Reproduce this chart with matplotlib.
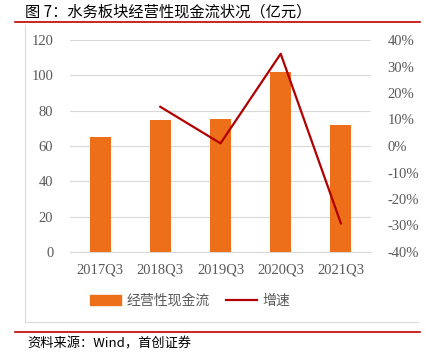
import matplotlib
matplotlib.use("Agg")
import matplotlib.pyplot as plt
from matplotlib.lines import Line2D
from matplotlib.patches import Rectangle

categories = ["2017Q3", "2018Q3", "2019Q3", "2020Q3", "2021Q3"]
cash_flow = [65.0, 74.8, 75.4, 102.0, 72.0]
growth_cats = ["2018Q3", "2019Q3", "2020Q3", "2021Q3"]
growth = [14.8, 1.0, 34.8, -29.2]
left_ticks = [0, 20, 40, 60, 80, 100, 120]
right_ticks = [-40, -30, -20, -10, 0, 10, 20, 30, 40]

W, H = 425, 359
fig = plt.figure(figsize=(W / 100, H / 100), dpi=100)
cjk = ["Noto Sans CJK SC", "DejaVu Sans"]
serif = ["Liberation Serif", "DejaVu Serif"]
tick_color = "#595959"

def fx(px):
    return px / W

def fy(py):
    return 1 - py / H

ax = fig.add_axes([fx(70), fy(252), fx(371) - fx(70), fy(40) - fy(252)])
x = list(range(len(categories)))
ax.bar(x, cash_flow, width=0.35, color="#EE6F1A", zorder=3, label="经营性现金流")
ax.set_xlim(-0.5, len(categories) - 0.5)
ax.set_ylim(0, 120)
ax.set_yticks(left_ticks)
ax.set_xticks(x)
ax.set_xticklabels(categories)
ax.grid(axis="y", color="#D9D9D9", linewidth=0.8, zorder=0)
for s in ["top", "right", "left"]:
    ax.spines[s].set_visible(False)
ax.spines["bottom"].set_color("#D9D9D9")
ax.tick_params(axis="both", length=0, colors=tick_color, labelsize=10.5)
ax.tick_params(axis="x", pad=8)
ax.tick_params(axis="y", pad=12)
for lab in ax.get_xticklabels() + ax.get_yticklabels():
    lab.set_family(serif)

ax2 = ax.twinx()
gx = [categories.index(c) for c in growth_cats]
ax2.plot(gx, growth, color="#B00000", linewidth=1.6, zorder=4, label="增速")
ax2.set_ylim(-40, 40)
ax2.set_yticks(right_ticks)
ax2.set_yticklabels([f"{t}%" for t in right_ticks])
for s in ax2.spines.values():
    s.set_visible(False)
ax2.tick_params(axis="y", length=0, colors=tick_color, labelsize=10.5, pad=12)
for lab in ax2.get_yticklabels():
    lab.set_family(serif)

handles = [Rectangle((0, 0), 1, 1, color="#EE6F1A"),
           Line2D([0], [0], color="#B00000", linewidth=1.6)]
fig.legend(handles, ["经营性现金流", "增速"], loc="center",
           bbox_to_anchor=(fx(190), fy(301)), ncol=2, frameon=False,
           prop={"family": cjk, "size": 10}, labelcolor=tick_color,
           handlelength=2.2, handleheight=0.7, columnspacing=1.2, handletextpad=0.4,
           borderpad=0, borderaxespad=0)

fig.text(fx(25), fy(12), "图 7：水务板块经营性现金流状况（亿元）", family=cjk,
         fontsize=11, color="black", va="center", ha="left")
fig.add_artist(Line2D([fx(15), fx(420)], [fy(22), fy(22)], color="#C00000", linewidth=1.2))
fig.add_artist(Line2D([fx(25), fx(25), fx(418)], [fy(25), fy(322), fy(322)],
                      color="#D9D9D9", linewidth=0.8))
fig.add_artist(Line2D([fx(15), fx(420)], [fy(332), fy(332)], color="#C00000", linewidth=1.2))
fig.text(fx(27), fy(344), "资料来源：Wind，首创证券", family=cjk, fontsize=9.5,
         style="italic", color="black", va="center", ha="left")

fig.savefig("out.png", dpi=100)
